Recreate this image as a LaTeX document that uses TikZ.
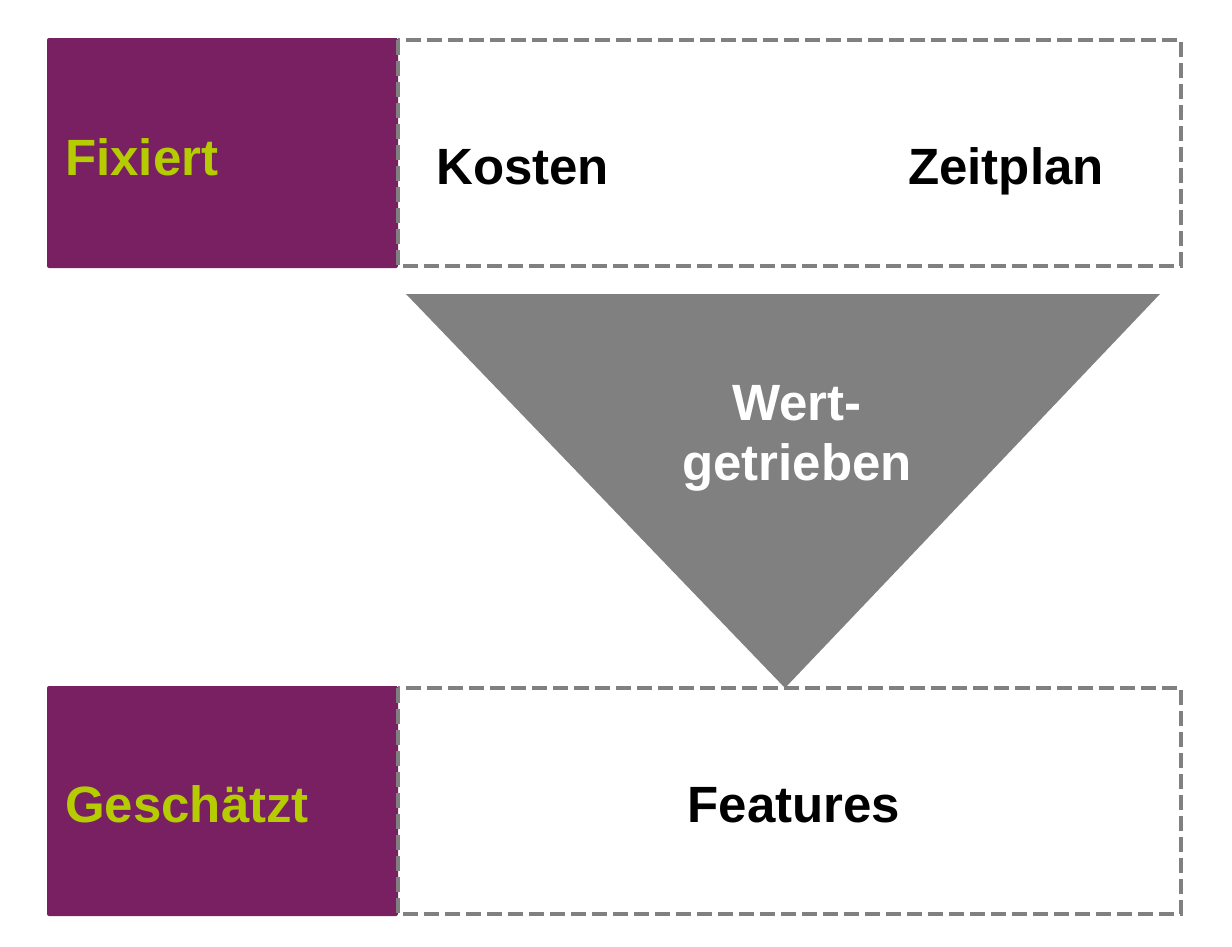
\documentclass[tikz,border=0pt]{standalone}
\usepackage{fontspec}
\setmainfont{Liberation Sans}
\definecolor{purp}{HTML}{782062}
\definecolor{lime}{HTML}{B5CC00}
\definecolor{dgray}{HTML}{808080}
\tikzset{
  purpbox/.style={fill=purp, rounded corners=2pt},
  dashbox/.style={draw=dgray, line width=4pt, dash pattern=on 15pt off 6pt},
  lbl/.style={font=\fontsize{51}{60}\selectfont\bfseries, inner sep=0pt},
}
\begin{document}
\begin{tikzpicture}[x=1pt,y=-1pt]
\useasboundingbox (0,0) rectangle (1232,946);
% top row
\fill[purpbox] (47,38) rectangle (398,268);
\draw[dashbox] (398,40) rectangle (1181,266);
% triangle
\fill[dgray] (406,294) -- (1160,294) -- (785,688) -- cycle;
% bottom row
\fill[purpbox] (47,686) rectangle (398,916);
\draw[dashbox] (398,688) rectangle (1181,914);
% labels
\node[lbl, text=lime, anchor=base west] (fix) at (65,175) {Fixiert};
\node[lbl, anchor=base west] (kos) at (436,184) {Kosten};
\node[lbl, anchor=base west] (zeit) at (908,184) {Zeitplan};
\node[lbl, text=white, anchor=base] (wert) at (797,420) {Wert-};
\node[lbl, text=white, anchor=base] (getr) at (797,480) {getrieben};
\node[lbl, text=lime, anchor=base west] (ges) at (65,822) {Geschätzt};
\node[lbl, anchor=base] (feat) at (794,822) {Features};
\end{tikzpicture}
\end{document}
